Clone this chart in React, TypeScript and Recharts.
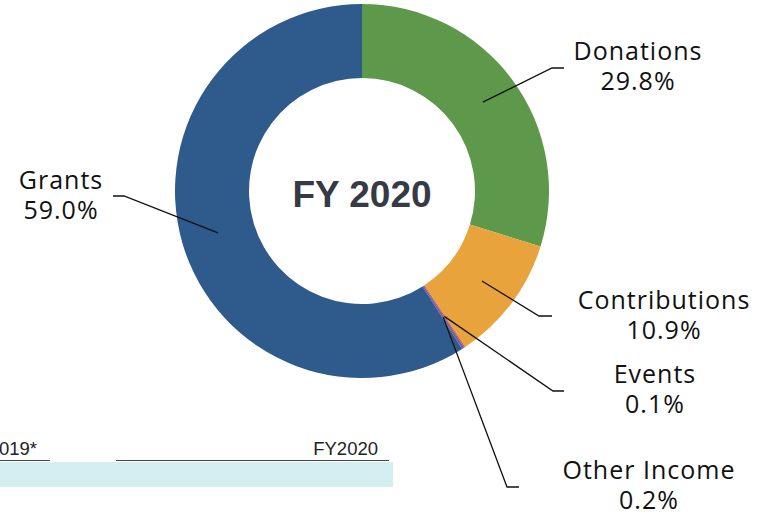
import React from 'react';
import { PieChart, Pie, Cell } from 'recharts';

// revenue mix, clockwise from 12 o'clock
const sources = ['Donations', 'Contributions', 'Events', 'Other Income', 'Grants'];
const shares = [29.8, 10.9, 0.1, 0.2, 59.0];
const colors = ['#5e994b', '#e8a33d', '#c0504d', '#7e5aa2', '#2e5a8c'];
const centerTitle = 'FY 2020';

// where each callout sits: elbow of the leader, end of the stub, text centre and baseline
const callouts: Record<string, { ex: number; ey: number; hx: number; tx: number; ty: number }> = {
  Donations: { ex: 552, ey: 68, hx: 564, tx: 638, ty: 60 },
  Contributions: { ex: 539, ey: 316, hx: 552, tx: 664, ty: 309 },
  Events: { ex: 553, ey: 391, hx: 564, tx: 655, ty: 383 },
  'Other Income': { ex: 507, ey: 487, hx: 519, tx: 649, ty: 479 },
  Grants: { ex: 124, ey: 196, hx: 113, tx: 61, ty: 189 },
};

const data = sources.map((name, i) => ({ name, value: shares[i] }));
const RADIAN = Math.PI / 180;
const FONT = '"Open Sans", Lato, sans-serif';

const renderCallout = (props: any) => {
  const { cx, cy, midAngle, innerRadius, outerRadius, index } = props;
  const name = sources[index];
  const c = callouts[name];
  const r = (innerRadius + outerRadius) / 2;
  const sx = cx + r * Math.cos(-midAngle * RADIAN);
  const sy = cy + r * Math.sin(-midAngle * RADIAN);
  const textStyle = { letterSpacing: 1 };
  return (
    <g key={name}>
      <polyline
        points={`${sx},${sy} ${c.ex},${c.ey} ${c.hx},${c.ey}`}
        fill="none"
        stroke="#111"
        strokeWidth={1.3}
      />
      <text x={c.tx} y={c.ty} textAnchor="middle" fontFamily={FONT} fontSize={25} fill="#111" style={textStyle}>
        {name}
      </text>
      <text x={c.tx} y={c.ty + 30} textAnchor="middle" fontFamily={FONT} fontSize={25} fill="#111" style={textStyle}>
        {shares[index].toFixed(1)}%
      </text>
    </g>
  );
};

const tableFont = 'Liberation Sans, Arial, sans-serif';

export default function App() {
  return (
    <div style={{ position: 'absolute', left: 0, top: 0, width: 763, height: 514, background: '#fff', overflow: 'hidden' }}>
      {/* scrap of the table underneath the chart */}
      <div style={{ position: 'absolute', left: 0, top: 462, width: 393, height: 25, background: '#d4eef2' }} />
      <div style={{ position: 'absolute', left: 0, top: 460, width: 50, height: 1, background: '#444' }} />
      <div style={{ position: 'absolute', left: 116, top: 460, width: 273, height: 1, background: '#444' }} />
      <div style={{ position: 'absolute', left: -1, top: 438, fontFamily: tableFont, fontSize: 18.5, color: '#222' }}>019*</div>
      <div style={{ position: 'absolute', left: 250, width: 128, textAlign: 'right', top: 438, fontFamily: tableFont, fontSize: 18.5, color: '#222' }}>FY2020</div>

      <div style={{ position: 'absolute', left: 0, top: 0 }}>
        <PieChart width={763} height={514} margin={{ top: 0, right: 0, bottom: 0, left: 0 }}>
          <Pie
            data={data}
            dataKey="value"
            nameKey="name"
            cx={362}
            cy={191}
            innerRadius={113}
            outerRadius={187}
            startAngle={90}
            endAngle={-270}
            stroke="none"
            label={renderCallout}
            labelLine={false}
            isAnimationActive={false}
          >
            {data.map((d, i) => (
              <Cell key={d.name} fill={colors[i]} />
            ))}
          </Pie>
          <text x={362} y={207} textAnchor="middle" fontFamily={tableFont} fontWeight="bold" fontSize={37} fill="#363a45">
            {centerTitle}
          </text>
        </PieChart>
      </div>
    </div>
  );
}
